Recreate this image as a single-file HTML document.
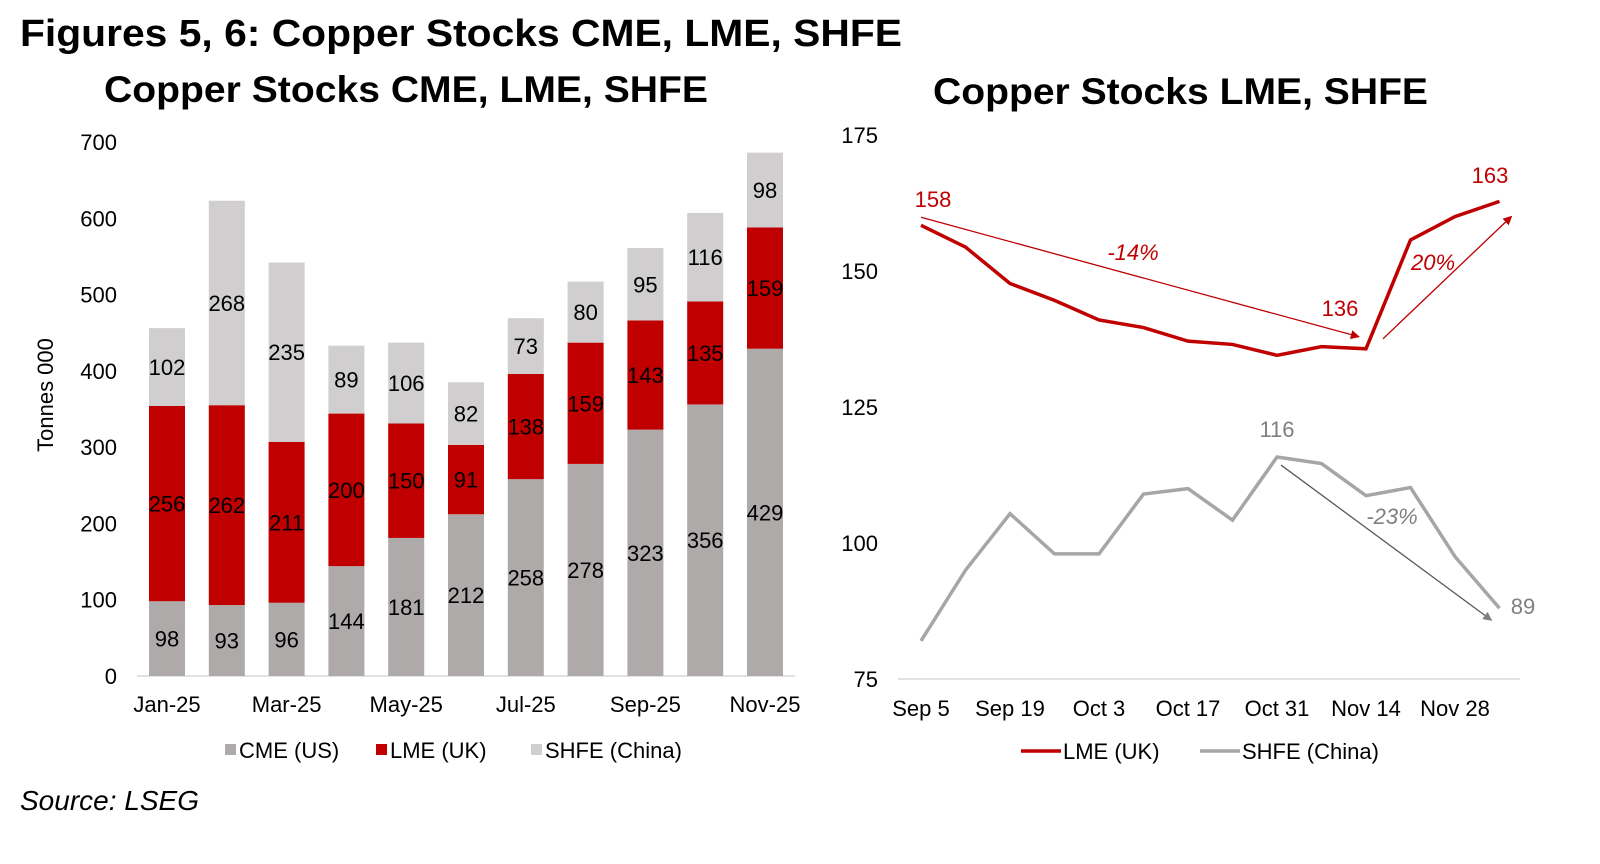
<!DOCTYPE html>
<html><head><meta charset="utf-8"><style>
body{margin:0;background:#fff;width:1600px;height:859px;overflow:hidden;font-family:"Liberation Sans",Arial,sans-serif}
svg text{font-family:"Liberation Sans",Arial,sans-serif}
</style></head><body>
<svg id="s" width="1600" height="859" xmlns="http://www.w3.org/2000/svg">
<defs>
<marker id="ar" viewBox="0 0 10 10" refX="9" refY="5" markerWidth="7" markerHeight="7" orient="auto"><path d="M0,0L10,5L0,10z" fill="#c00000"/></marker>
<marker id="ag" viewBox="0 0 10 10" refX="9" refY="5" markerWidth="7" markerHeight="7" orient="auto"><path d="M0,0L10,5L0,10z" fill="#7f7f7f"/></marker>
</defs>
<text x="20" y="46" font-size="38" font-weight="bold" textLength="882" lengthAdjust="spacingAndGlyphs">Figures 5, 6: Copper Stocks CME, LME, SHFE</text>
<text x="104" y="102" font-size="37" font-weight="bold" textLength="604" lengthAdjust="spacingAndGlyphs">Copper Stocks CME, LME, SHFE</text>
<text x="933" y="104" font-size="37" font-weight="bold" textLength="495" lengthAdjust="spacingAndGlyphs">Copper Stocks LME, SHFE</text>
<text x="20" y="810" font-size="28" font-style="italic">Source: LSEG</text>
<g id="left"></g><g id="right"></g>
</svg>
<script>
const months=["Jan-25","Feb-25","Mar-25","Apr-25","May-25","Jun-25","Jul-25","Aug-25","Sep-25","Oct-25","Nov-25"];
const cme=[98,93,96,144,181,212,258,278,323,356,429];
const lme=[256,262,211,200,150,91,138,159,143,135,159];
const shfe=[102,268,235,89,106,82,73,80,95,116,98];
const leftTicks=[0,100,200,300,400,500,600,700];
const weeks=["Sep 5","Sep 12","Sep 19","Sep 26","Oct 3","Oct 10","Oct 17","Oct 24","Oct 31","Nov 7","Nov 14","Nov 21","Nov 28","Dec 5"];
const lmeW=[158.4,154.4,147.7,144.6,141,139.6,137.1,136.5,134.5,136.1,135.7,155.7,160,162.8];
const shfeW=[82,95,105.4,98,98,109,110,104.2,115.8,114.6,108.7,110.2,97.5,88];
const rightTicks=[75,100,125,150,175];
const NS="http://www.w3.org/2000/svg";
function mk(p,t,a,txt){const e=document.createElementNS(NS,t);for(const k in a)e.setAttribute(k,a[k]);if(txt!==undefined)e.textContent=txt;p.appendChild(e);return e;}
const L=document.getElementById('left');
const ly=v=>676-v*534/700, lx=i=>167+i*59.8;
leftTicks.forEach(t=>{const e=mk(L,'text',{x:117,y:ly(t)+8,'font-size':22,'text-anchor':'end'},t);

});
const ax=mk(L,'line',{x1:137,x2:795,y1:676,y2:676,stroke:'#d9d9d9','stroke-width':1.5});


const yt=mk(L,'text',{x:53,y:395,'font-size':22,'text-anchor':'middle',transform:'rotate(-90 53 395)'},'Tonnes 000');


months.forEach((m,i)=>{
 let base=0;
 [[cme,'#aeaaaa','cme'],[lme,'#c00000','lme'],[shfe,'#d0cece','shfe']].forEach(([arr,c,n])=>{
  const v=arr[i];const y0=ly(base),y1=ly(base+v);
  const r=mk(L,'rect',{x:lx(i)-18,y:y1,width:36,height:y0-y1,fill:c});
  
  
  const t=mk(L,'text',{x:lx(i),y:(y0+y1)/2+8,'font-size':22,'text-anchor':'middle'},v);
  
  
  base+=v;});
 if(i%2==0){const t=mk(L,'text',{x:lx(i),y:712,'font-size':22,'text-anchor':'middle'},m);
 
 }
});
[['CME (US)','#aeaaaa',225],['LME (UK)','#c00000',376],['SHFE (China)','#d0cece',531]].forEach(([n,c,x])=>{
 const g=mk(L,'g',{});
 
 
 mk(g,'rect',{x:x,y:744,width:11,height:11,fill:c});mk(g,'text',{x:x+14,y:758,'font-size':22},n);});
const R=document.getElementById('right');
const ry=v=>135+(175-v)*5.44, rx=i=>921+i*44.5;
rightTicks.forEach(t=>{const e=mk(R,'text',{x:878,y:ry(t)+8,'font-size':22,'text-anchor':'end'},t);

});
const ax2=mk(R,'line',{x1:898,x2:1520,y1:679,y2:679,stroke:'#d9d9d9','stroke-width':1.5});


weeks.forEach((w,i)=>{if(i%2==0){const t=mk(R,'text',{x:rx(i),y:716,'font-size':22,'text-anchor':'middle'},w);

}});
const pl=mk(R,'polyline',{points:shfeW.map((v,i)=>rx(i)+','+ry(v)).join(' '),fill:'none',stroke:'#a6a6a6','stroke-width':3.5});


const pl2=mk(R,'polyline',{points:lmeW.map((v,i)=>rx(i)+','+ry(v)).join(' '),fill:'none',stroke:'#c00000','stroke-width':3.5});


const n=lmeW.length-1;
const a1=mk(R,'line',{x1:rx(0),y1:ry(lmeW[0])-8,x2:rx(10)-7,y2:ry(lmeW[10])-12,stroke:'#c00000','stroke-width':1.3,'marker-end':'url(#ar)'});


const a2=mk(R,'line',{x1:rx(10)+17,y1:ry(lmeW[10])-10,x2:rx(n)+12,y2:ry(lmeW[n])+15,stroke:'#c00000','stroke-width':1.3,'marker-end':'url(#ar)'});


const a3=mk(R,'line',{x1:rx(8)+4,y1:ry(shfeW[8])+8,x2:rx(n)-8,y2:ry(shfeW[n])+12,stroke:'#595959','stroke-width':1.3,'marker-end':'url(#ag)'});


[[933,207,'158','#c00000',''],[1340,316,'136','#c00000',''],[1490,183,'163','#c00000',''],[1133,260,'-14%','#c00000','italic'],[1433,270,'20%','#c00000','italic'],[1277,437,'116','#7f7f7f',''],[1392,524,'-23%','#7f7f7f','italic'],[1523,614,'89','#7f7f7f','']].forEach(([x,y,t,c,st])=>{
 const e=mk(R,'text',{x:x,y:y,'font-size':22,'text-anchor':'middle',fill:c,'font-style':st||'normal'},t);
 
 });
[['LME (UK)','#c00000',1021],['SHFE (China)','#a6a6a6',1200]].forEach(([t,c,x])=>{
 const g=mk(R,'g',{});
 
 
 mk(g,'line',{x1:x,x2:x+40,y1:751,y2:751,stroke:c,'stroke-width':3.5});mk(g,'text',{x:x+42,y:759,'font-size':22},t);});
</script>
</body></html>
